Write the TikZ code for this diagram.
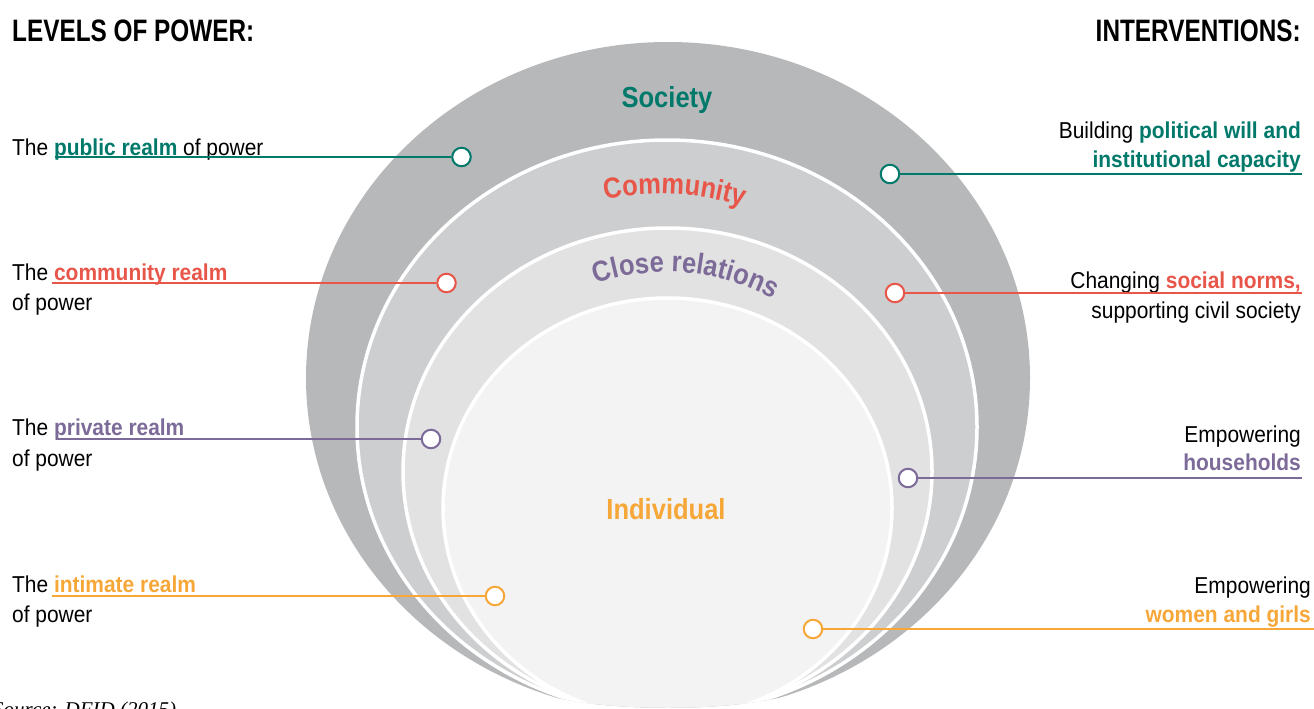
\documentclass[tikz,border=0pt]{standalone}
\usepackage{fontspec}
\setmainfont{Liberation Sans}[FakeStretch=0.91]
\newfontfamily\headfont{Liberation Sans}[FakeStretch=0.785]
\newfontfamily\ringfont{Liberation Sans}[FakeStretch=0.88]
\newfontfamily\srcfont{Liberation Serif}
\usetikzlibrary{decorations.text}

\definecolor{cteal}{RGB}{0,121,107}
\definecolor{cred}{RGB}{232,86,74}
\definecolor{cpurple}{RGB}{124,106,152}
\definecolor{corange}{RGB}{246,167,56}
\definecolor{gsoc}{RGB}{183,184,186}
\definecolor{gcom}{RGB}{205,206,208}
\definecolor{gclo}{RGB}{226,226,227}
\definecolor{gind}{RGB}{243,243,243}

\tikzset{
  lbl/.style={inner sep=0pt, font=\fontsize{23}{30}\selectfont},
  head/.style={inner sep=0pt, font=\headfont\bfseries\fontsize{31}{36}\selectfont},
  ring/.style={inner sep=0pt, font=\ringfont\bfseries\fontsize{29}{34}\selectfont},
  marker/.style={circle, draw=#1, fill=white, line width=2pt, minimum size=18.5pt, inner sep=0pt},
  link/.style={draw=#1, line width=1.8pt},
  band/.style={fill=#1, draw=white, line width=3.5pt}
}

\begin{document}
\begin{tikzpicture}[x=1pt,y=1pt]
\useasboundingbox (0,0) rectangle (1314,-709);

% nested levels of power
\begin{scope}
  \clip (0,0) -- (1314,0) -- (1314,-692) -- (800,-692)
        .. controls (740,-713) and (595,-713) .. (535,-692) -- (0,-692) -- cycle;
  \fill[gsoc] (668,-378) ellipse [x radius=362, y radius=336];
  \path[band=gcom] (667,-427) ellipse [x radius=310, y radius=287];
  \path[band=gclo] (667.5,-471.5) ellipse [x radius=264.5, y radius=243.5];
  \path[band=gind] (667.5,-508) ellipse [x radius=224.5, y radius=210];
\end{scope}

% ring titles
\node[ring, text=cteal, anchor=base] (society) at (667,-107) {Society};
\path[decorate, decoration={text along path, text align=center,
   text={|\ringfont\bfseries\fontsize{29}{34}\selectfont\color{cred}|Community}}]
   (660,-474) ++(112:280) arc[start angle=112, end angle=62, radius=280];
\path[decorate, decoration={text along path, text align=center,
   text={|\ringfont\bfseries\fontsize{29}{34}\selectfont\color{cpurple}|Close relations}}]
   (667,-492) ++(118:220) arc[start angle=118, end angle=52, radius=220];
\node[ring, text=corange, anchor=base] (individual) at (666,-519) {Individual};

% headings
\node[head, anchor=base west] (hlev) at (12,-42) {LEVELS OF POWER:};
\node[head, anchor=base east] (hint) at (1301,-42) {INTERVENTIONS:};

% markers
\node[marker=cteal] (mL1) at (461.5,-157) {};
\node[marker=cred] (mL2) at (446.5,-283) {};
\node[marker=cpurple] (mL3) at (431,-439) {};
\node[marker=corange] (mL4) at (495,-596) {};
\node[marker=cteal] (mR1) at (890,-174) {};
\node[marker=cred] (mR2) at (895,-293) {};
\node[marker=cpurple] (mR3) at (908,-478) {};
\node[marker=corange] (mR4) at (813,-629) {};

% left labels
\node[lbl, anchor=base west] (l1) at (12,-155) {The \textcolor{cteal}{\bfseries public realm} of power};
\node[lbl, anchor=base west] (l2a) at (12,-280) {The \textcolor{cred}{\bfseries community realm}};
\node[lbl, anchor=base west] (l2b) at (12,-310) {of power};
\node[lbl, anchor=base west] (l3a) at (12,-435) {The \textcolor{cpurple}{\bfseries private realm}};
\node[lbl, anchor=base west] (l3b) at (12,-466) {of power};
\node[lbl, anchor=base west] (l4a) at (12,-592) {The \textcolor{corange}{\bfseries intimate realm}};
\node[lbl, anchor=base west] (l4b) at (12,-622) {of power};

% right labels
\node[lbl, anchor=base east] (r1a) at (1301,-138) {Building \textcolor{cteal}{\bfseries political will and}};
\node[lbl, anchor=base east] (r1b) at (1301,-167) {\textcolor{cteal}{\bfseries institutional capacity}};
\node[lbl, anchor=base east] (r2a) at (1301,-288) {Changing \textcolor{cred}{\bfseries social norms,}};
\node[lbl, anchor=base east] (r2b) at (1301,-318) {supporting civil society};
\node[lbl, anchor=base east] (r3a) at (1301,-442) {Empowering};
\node[lbl, anchor=base east] (r3b) at (1301,-470) {\textcolor{cpurple}{\bfseries households}};
\node[lbl, anchor=base east] (r4a) at (1311,-593) {Empowering};
\node[lbl, anchor=base east] (r4b) at (1311,-622) {\textcolor{corange}{\bfseries women and girls}};

% connector ends
\coordinate (cL1) at (55,-157);
\coordinate (cL2) at (52,-283);
\coordinate (cL3) at (56,-439);
\coordinate (cL4) at (52,-596);
\coordinate (cR1) at (1302,-174);
\coordinate (cR2) at (1302,-293);
\coordinate (cR3) at (1302,-478);
\coordinate (cR4) at (1314,-629);

\draw[link=cteal] (cL1) -- (mL1);
\draw[link=cred] (cL2) -- (mL2);
\draw[link=cpurple] (cL3) -- (mL3);
\draw[link=corange] (cL4) -- (mL4);
\draw[link=cteal] (mR1) -- (cR1);
\draw[link=cred] (mR2) -- (cR2);
\draw[link=cpurple] (mR3) -- (cR3);
\draw[link=corange] (mR4) -- (cR4);

% source line
\node[inner sep=0pt, anchor=base west, font=\srcfont\itshape\fontsize{21}{24}\selectfont] (src) at (-7,-716) {Source: DFID (2015)};
\end{tikzpicture}
\end{document}
